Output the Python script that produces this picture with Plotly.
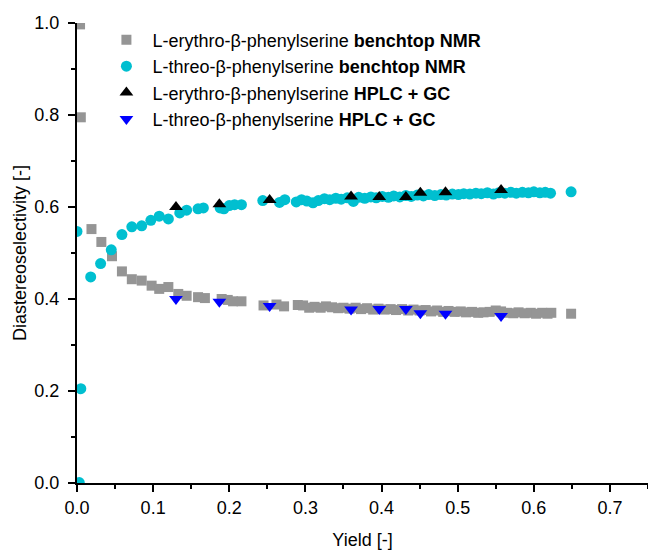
import plotly.graph_objects as go

# L-erythro benchtop NMR (grey squares)
ery_nmr_x = [0.004, 0.005, 0.019, 0.032, 0.046, 0.059, 0.072, 0.085, 0.098, 0.108, 0.120,
             0.133, 0.144, 0.159, 0.168, 0.190, 0.198, 0.205, 0.216, 0.245, 0.262, 0.272,
             0.290, 0.297, 0.305, 0.312, 0.320, 0.327, 0.335, 0.343, 0.350, 0.358, 0.366,
             0.373, 0.381, 0.389, 0.396, 0.404, 0.412, 0.419, 0.427, 0.435, 0.442, 0.450,
             0.458, 0.465, 0.473, 0.481, 0.488, 0.496, 0.504, 0.511, 0.519, 0.527, 0.534,
             0.542, 0.550, 0.557, 0.565, 0.573, 0.580, 0.588, 0.596, 0.603, 0.611, 0.618,
             0.623, 0.649]
ery_nmr_y = [0.997, 0.795, 0.552, 0.524, 0.493, 0.460, 0.443, 0.440, 0.429, 0.422, 0.426,
             0.411, 0.407, 0.404, 0.402, 0.400, 0.398, 0.395, 0.395, 0.386, 0.388, 0.384,
             0.387, 0.386, 0.381, 0.383, 0.381, 0.384, 0.382, 0.380, 0.381, 0.379, 0.381,
             0.378, 0.380, 0.377, 0.379, 0.377, 0.378, 0.376, 0.378, 0.375, 0.377, 0.375,
             0.376, 0.373, 0.375, 0.372, 0.374, 0.372, 0.373, 0.371, 0.372, 0.370, 0.371,
             0.372, 0.375, 0.373, 0.370, 0.369, 0.371, 0.369, 0.370, 0.368, 0.370, 0.368,
             0.370, 0.368]

# L-threo benchtop NMR (cyan circles)
thr_nmr_x = [0.000, 0.005, 0.003, 0.018, 0.031, 0.045, 0.059, 0.072, 0.085, 0.097, 0.108,
             0.120, 0.135, 0.144, 0.159, 0.166, 0.188, 0.193, 0.200, 0.207, 0.216, 0.244,
             0.266, 0.273,
             0.288, 0.295, 0.302, 0.310, 0.317, 0.325, 0.332, 0.340, 0.347, 0.355, 0.363,
             0.370, 0.378, 0.386, 0.393, 0.401, 0.409, 0.416, 0.424, 0.432, 0.439, 0.447,
             0.455, 0.462, 0.470, 0.478, 0.485, 0.493, 0.501, 0.508, 0.516, 0.524, 0.531,
             0.539, 0.547, 0.554, 0.562, 0.570, 0.577, 0.585, 0.593, 0.600, 0.608, 0.615,
             0.622, 0.649]
thr_nmr_y = [0.547, 0.205, 0.001, 0.448, 0.477, 0.507, 0.540, 0.557, 0.559, 0.571, 0.580,
             0.574, 0.587, 0.593, 0.596, 0.598, 0.598, 0.596, 0.603, 0.605, 0.605, 0.614,
             0.610, 0.616,
             0.611, 0.616, 0.613, 0.609, 0.614, 0.618, 0.616, 0.619, 0.617, 0.620, 0.612,
             0.621, 0.619, 0.622, 0.620, 0.623, 0.621, 0.624, 0.622, 0.625, 0.623, 0.626,
             0.624, 0.627, 0.625, 0.627, 0.626, 0.628, 0.627, 0.629, 0.628, 0.630, 0.629,
             0.631, 0.628, 0.631, 0.630, 0.632, 0.630, 0.632, 0.631, 0.633, 0.631, 0.632,
             0.630, 0.633]

# HPLC + GC
hplc_x = [0.130, 0.187, 0.253, 0.360, 0.397, 0.432, 0.451, 0.484, 0.557]
ery_hplc_y = [0.600, 0.606, 0.615, 0.623, 0.622, 0.622, 0.631, 0.632, 0.637]
thr_hplc_y = [0.400, 0.394, 0.385, 0.377, 0.378, 0.378, 0.369, 0.368, 0.363]

names = [
    "L-erythro-β-phenylserine <b>benchtop NMR</b>",
    "L-threo-β-phenylserine <b>benchtop NMR</b>",
    "L-erythro-β-phenylserine <b>HPLC + GC</b>",
    "L-threo-β-phenylserine <b>HPLC + GC</b>",
]

FONT = "Liberation Sans, Arial, sans-serif"

fig = go.Figure()
fig.add_trace(go.Scatter(x=ery_nmr_x, y=ery_nmr_y, mode="markers", name=names[0],
                         marker=dict(symbol="square", size=10, color="#959595", line=dict(width=0))))
fig.add_trace(go.Scatter(x=thr_nmr_x, y=thr_nmr_y, mode="markers", name=names[1],
                         marker=dict(symbol="circle", size=11, color="#00BFD0", line=dict(width=0))))
fig.add_trace(go.Scatter(x=hplc_x, y=ery_hplc_y, mode="markers", name=names[2],
                         marker=dict(symbol="triangle-up", size=12, color="#000000", line=dict(width=0))))
fig.add_trace(go.Scatter(x=hplc_x, y=thr_hplc_y, mode="markers", name=names[3],
                         marker=dict(symbol="triangle-down", size=12, color="#0000FF", line=dict(width=0))))

axis_common = dict(
    showline=True, linecolor="black", linewidth=2,
    showgrid=False, zeroline=False, mirror=False,
    ticks="outside", ticklen=7, tickwidth=2, tickcolor="black",
    tickfont=dict(family=FONT, size=18, color="black"),
    minor=dict(ticks="outside", ticklen=4, tickwidth=2, tickcolor="black"),
)

fig.update_layout(
    width=648, height=550,
    margin=dict(l=77, r=0, t=23, b=67),
    plot_bgcolor="white", paper_bgcolor="white",
    font=dict(family=FONT, size=18, color="black"),
    showlegend=True,
    legend=dict(x=0.041, y=1.003, xanchor="left", yanchor="top",
                bgcolor="rgba(0,0,0,0)", font=dict(family=FONT, size=18, color="black"),
                itemwidth=42, tracegroupgap=0),
)
fig.update_xaxes(range=[0, 0.75], dtick=0.1, tickformat=".1f",
                 title=dict(text="Yield [-]", font=dict(family=FONT, size=18), standoff=18),
                 **axis_common)
fig.update_xaxes(minor_dtick=0.05)
fig.update_yaxes(range=[0, 1.0], dtick=0.2, tickformat=".1f", ticklabelstandoff=5,
                 title=dict(text="Diastereoselectivity [-]", font=dict(family=FONT, size=18), standoff=3),
                 **axis_common)
fig.update_yaxes(minor_dtick=0.1)

fig.write_html("out.html")
